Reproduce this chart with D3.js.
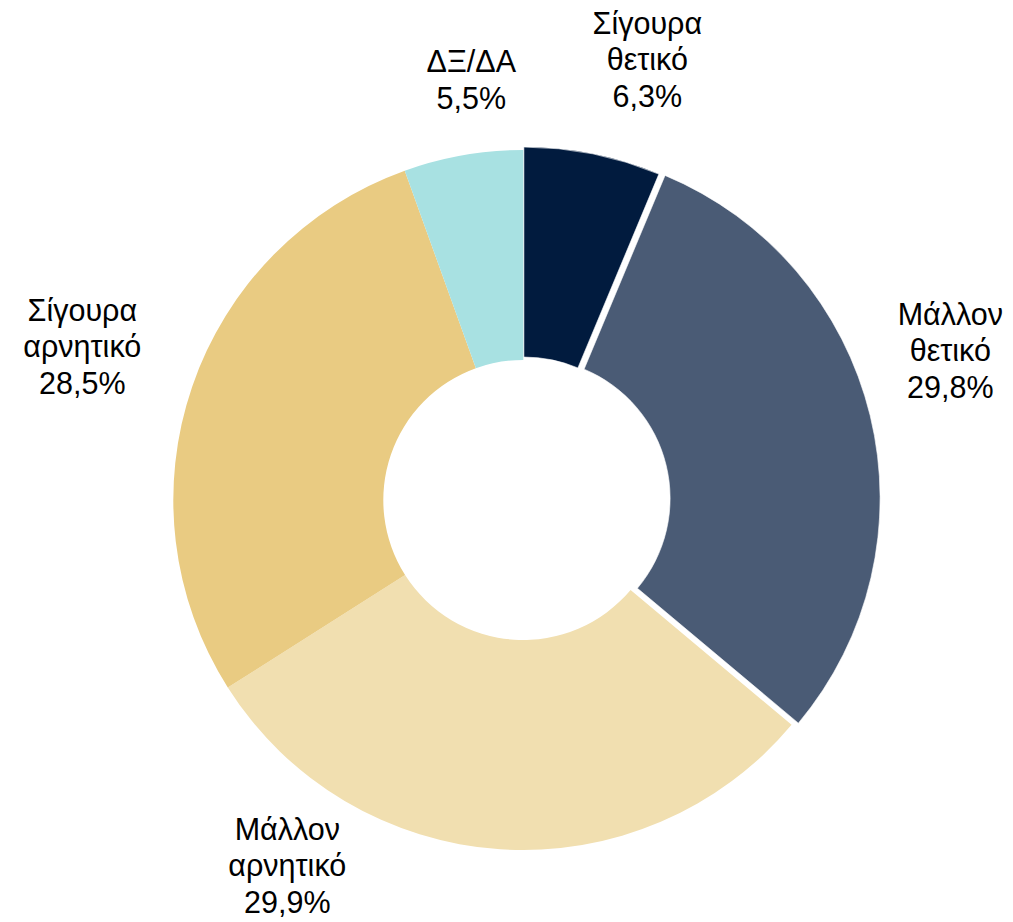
<!DOCTYPE html>
<html>
<head>
<meta charset="utf-8">
<script src="https://cdn.jsdelivr.net/npm/d3@7"></script>
<style>
  html, body { margin: 0; padding: 0; background: #ffffff; }
  svg { display: block; }
  text { font-family: "Liberation Sans", Arial, sans-serif; fill: #000000; }
</style>
</head>
<body>
<svg id="chart" width="1013" height="922"></svg>
<script>
// ---- data ----
const categories = ["Σίγουρα θετικό", "Μάλλον θετικό", "Μάλλον αρνητικό", "Σίγουρα αρνητικό", "ΔΞ/ΔΑ"];
const values = [6.3, 29.8, 29.9, 28.5, 5.5];
const colors = ["#011b3e", "#4a5b75", "#f1dfb0", "#e9cb82", "#a8e1e2"];

// ---- layout ----
const W = 1013, H = 922;
const cx = 523.3, cy = 500;
const outerR = 350, innerR = 140;
const explode = [3, 7, 0, 0, 0];             // slice offsets (px)
const labelOffset = [[124, -440], [427, -149], [-236, 366], [-441, -153], [-52, -420]];
const fontSize = 30.5, lineGap = 36.5;

const svg = d3.select("#chart");
const g = svg.append("g").attr("transform", `translate(${cx},${cy})`);

const pie = d3.pie().sort(null).value(d => d)(values);
const arc = d3.arc().innerRadius(innerR).outerRadius(outerR);

g.selectAll("path.slice")
  .data(pie)
  .join("path")
  .attr("class", "slice")
  .attr("d", arc)
  .attr("fill", (d, i) => colors[i])
  .attr("stroke", (d, i) => explode[i] ? "#ffffff" : "none")
  .attr("stroke-width", 0.6)
  .attr("transform", (d, i) => {
    const a = (d.startAngle + d.endAngle) / 2;
    return `translate(${Math.sin(a) * explode[i]},${-Math.cos(a) * explode[i]})`;
  });

const fmt = v => v.toFixed(1).replace(".", ",") + "%";

const labels = g.selectAll("text.lbl")
  .data(pie)
  .join("text")
  .attr("class", "lbl")
  .attr("text-anchor", "middle")
  .attr("font-size", fontSize);

labels.each(function (d, i) {
  const lines = categories[i].split(" ").concat([fmt(values[i])]);
  const [ox, oy] = labelOffset[i];
  const top = oy - (lines.length - 1) / 2 * lineGap + 0.34 * fontSize;
  d3.select(this).selectAll("tspan")
    .data(lines)
    .join("tspan")
    .attr("x", ox)
    .attr("y", (l, k) => top + k * lineGap)
    .text(l => l);
});
</script>
</body>
</html>
